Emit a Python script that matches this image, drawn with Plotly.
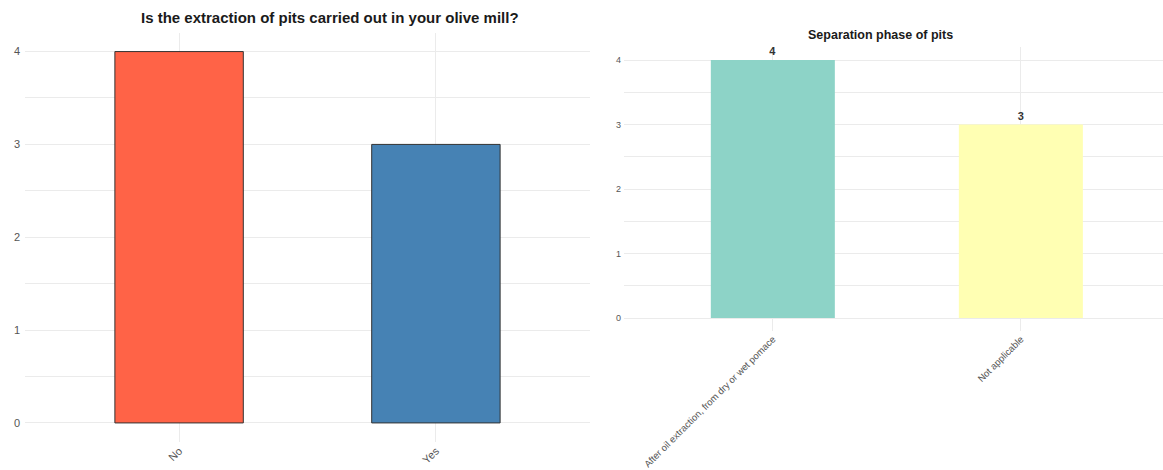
import plotly.graph_objects as go

# Survey answers: pit extraction in the olive mill
extraction_cats = ["No", "Yes"]
extraction_counts = [4, 3]
extraction_colors = ["#FF6347", "#4682B4"]

# Phase in which pits are separated
phase_cats = ["After oil extraction, from dry or wet pomace", "Not applicable"]
phase_counts = [4, 3]
phase_colors = ["#8DD3C7", "#FFFFB3"]

W, H = 1163, 470
FONT = "Liberation Sans, Arial, sans-serif"
GRID = "#EBEBEB"
TICK = "#555555"

fig = go.Figure()

fig.add_trace(go.Bar(
    x=extraction_cats, y=extraction_counts, width=0.5,
    marker=dict(color=extraction_colors, line=dict(color="#333333", width=1)),
    xaxis="x", yaxis="y", showlegend=False,
))

fig.add_trace(go.Bar(
    x=phase_cats, y=phase_counts, width=0.5,
    marker=dict(color=phase_colors, line=dict(width=0)),
    text=[f"<b>{v}</b>" for v in phase_counts], textposition="outside",
    textfont=dict(family=FONT, size=11, color="#333333"),
    cliponaxis=False,
    xaxis="x2", yaxis="y2", showlegend=False,
))

def px_x(p):
    return p / W

def px_y(p):
    return (H - p) / H

axis_common = dict(
    showgrid=True, gridcolor=GRID, gridwidth=1, zeroline=False,
    showline=False, ticks="", automargin=False,
    tickfont=dict(family=FONT, color=TICK),
)

fig.update_layout(
    width=W, height=H,
    margin=dict(l=0, r=0, t=0, b=0, autoexpand=False),
    paper_bgcolor="white", plot_bgcolor="white",
    bargap=0.5,
    xaxis=dict(axis_common, domain=[px_x(25), px_x(590)], range=[-0.6, 1.6],
               tickangle=-45, tickfont=dict(family=FONT, size=11, color=TICK),
               anchor="y"),
    yaxis=dict(axis_common, domain=[px_y(441.5), px_y(33)], range=[-0.2, 4.2],
               tickvals=[0, 1, 2, 3, 4], tickfont=dict(family=FONT, size=11, color=TICK),
               ticklabelstandoff=4,
               minor=dict(dtick=0.5, tick0=0, showgrid=True, gridcolor=GRID, gridwidth=0.6),
               anchor="x"),
    xaxis2=dict(axis_common, domain=[px_x(624), 1.0], range=[-0.6, 1.573],
                tickangle=-45, tickfont=dict(family=FONT, size=9.5, color=TICK),
                anchor="y2"),
    yaxis2=dict(axis_common, domain=[px_y(330.9), px_y(47.1)], range=[-0.2, 4.2],
                tickvals=[0, 1, 2, 3, 4], tickfont=dict(family=FONT, size=9, color=TICK),
                ticklabelstandoff=2,
                minor=dict(dtick=0.5, tick0=0, showgrid=True, gridcolor=GRID, gridwidth=0.6),
                anchor="x2"),
    annotations=[
        dict(text="<b>Is the extraction of pits carried out in your olive mill?</b>",
             x=px_x(330), y=px_y(17), xref="paper", yref="paper",
             xanchor="center", yanchor="middle", showarrow=False,
             font=dict(family=FONT, size=15, color="#1A1A1A")),
        dict(text="<b>Separation phase of pits</b>",
             x=px_x(880), y=px_y(35), xref="paper", yref="paper",
             xanchor="center", yanchor="middle", showarrow=False,
             font=dict(family=FONT, size=12.5, color="#1A1A1A")),
    ],
)

fig.write_html("out.html")
